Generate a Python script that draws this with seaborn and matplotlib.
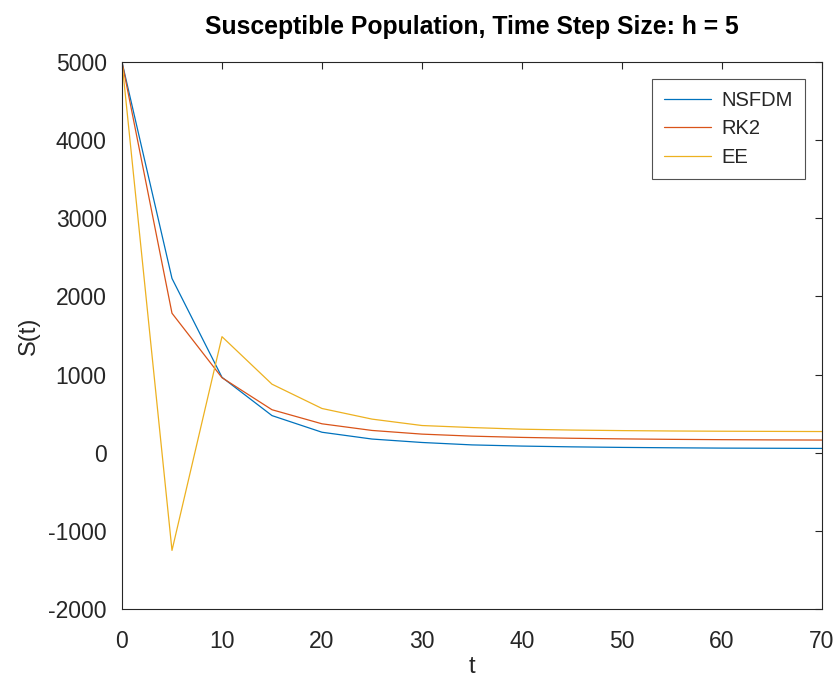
import numpy as np
import pandas as pd
import matplotlib
matplotlib.use("Agg")
import matplotlib.pyplot as plt
import seaborn as sns

t = [0, 5, 10, 15, 20, 25, 30, 35, 40, 45, 50, 55, 60, 65, 70]
nsfdm = [5000, 2230, 965, 475, 262, 175, 131, 100, 85, 75, 68, 63, 59, 57, 55]
rk2 = [5000, 1785, 960, 550, 370, 285, 238, 212, 196, 185, 177, 171, 167, 164, 162]
ee = [5000, -1250, 1485, 877, 566, 430, 348, 322, 301, 290, 283, 278, 275, 273, 271]
series_names = ["NSFDM", "RK2", "EE"]
colors = ["#0072BD", "#D95319", "#EDB120"]
xticks = [0, 10, 20, 30, 40, 50, 60, 70]
yticks = [-2000, -1000, 0, 1000, 2000, 3000, 4000, 5000]

df = pd.DataFrame({
    "t": t * 3,
    "S": nsfdm + rk2 + ee,
    "method": [series_names[0]] * len(t) + [series_names[1]] * len(t) + [series_names[2]] * len(t),
})

sns.set_theme(style="white")
plt.rcParams["font.family"] = ["Liberation Sans", "DejaVu Sans"]
plt.rcParams["axes.unicode_minus"] = False
axc = "#262626"

fig = plt.figure(figsize=(8.39, 6.76), dpi=100)
ax = fig.add_axes([0.1454, 0.0991, 0.8343, 0.8092])
sns.lineplot(data=df, x="t", y="S", hue="method", palette=colors, linewidth=0.9, ax=ax)

ax.set_xlim(0, 70)
ax.set_ylim(-2000, 5000)
ax.set_xticks(xticks)
ax.set_yticks(yticks)
ax.tick_params(direction="in", length=5, width=0.8, colors=axc, labelsize=16.5,
               top=True, right=True, labelcolor=axc)
ax.tick_params(axis="x", pad=15)
ax.tick_params(axis="y", pad=11)
for s in ax.spines.values():
    s.set_visible(True)
    s.set_color(axc)
    s.set_linewidth(0.8)
ax.set_xlabel("t", fontsize=17, color=axc, labelpad=2)
ax.set_ylabel("S(t)", fontsize=17, color=axc, labelpad=6)
ax.set_title("Susceptible Population, Time Step Size: h = 5", fontsize=17.8,
             fontweight="bold", color="black", pad=20)
leg = ax.legend(loc="upper right", fontsize=14.5, frameon=True, fancybox=False,
                edgecolor=axc, handlelength=2.33, borderaxespad=0.85,
                labelspacing=0.46, borderpad=0.6, handletextpad=0.5)
leg.get_frame().set_linewidth(0.8)
leg.set_title(None)

fig.savefig("out.png", dpi=100)
